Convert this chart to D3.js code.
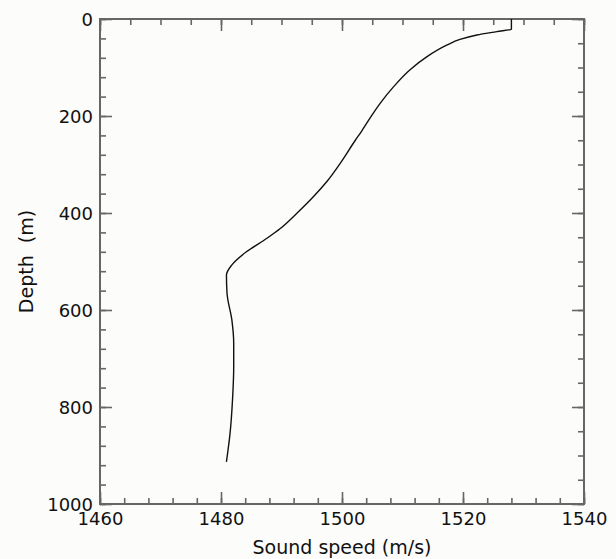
<!DOCTYPE html>
<html>
<head>
<meta charset="utf-8">
<script src="https://cdn.jsdelivr.net/npm/d3@7"></script>
<style>
  body { margin: 0; background: #fcfcfa; }
  svg { display: block; }
</style>
</head>
<body>
<svg id="canvas" width="616" height="559"></svg>
<script>
// sound speed profile
let depths = [0, 21, 26, 33, 42, 54, 78, 105, 140, 174, 205, 232, 250, 294, 335, 366, 401, 432, 452, 480, 507, 528, 566, 621, 669, 717, 786, 854, 913]
let speeds = [1528.0, 1528.0, 1525.6, 1522.3, 1519.5, 1517.3, 1514.0, 1511.2, 1508.5, 1506.3, 1504.6, 1503.2, 1502.2, 1499.9, 1497.5, 1495.3, 1492.5, 1489.8, 1487.6, 1484.2, 1481.8, 1480.9, 1481.0, 1481.8, 1482.1, 1482.1, 1481.9, 1481.5, 1480.9]

let xTicks = [1460, 1480, 1500, 1520, 1540]
let yTicks = [0, 200, 400, 600, 800, 1000]

let canvas = d3.select('#canvas')

let plotLeft = 100, plotRight = 584, plotTop = 19, plotBottom = 504
let axisColor = '#666'

let xScale = d3.scaleLinear().domain([1460, 1540]).range([plotLeft, plotRight])
let yScale = d3.scaleLinear().domain([0, 1000]).range([plotTop, plotBottom])

let styleAxis = (g) => {
    g.select('.domain').remove()
    g.selectAll('.tick line').attr('stroke', axisColor).attr('stroke-width', 1.6)
    g.selectAll('.tick text')
        .attr('fill', '#111')
        .style('font-family', '"DejaVu Sans", sans-serif')
        .style('font-size', '18px')
}

// bottom axis: labels, minor every 4
canvas.append('g')
    .attr('transform', 'translate(0,' + plotBottom + ')')
    .call(d3.axisBottom(xScale).tickValues(d3.range(1460, 1541, 4)).tickSize(-6).tickFormat(''))
    .call(styleAxis)
canvas.append('g')
    .attr('transform', 'translate(0,' + plotBottom + ')')
    .call(d3.axisBottom(xScale).tickValues(xTicks).tickSize(-12).tickFormat(d3.format('d')))
    .call(styleAxis)
    .call(g => g.selectAll('.tick text').attr('y', 21).attr('dy', '0'))

// top axis: no labels, minor every 5
canvas.append('g')
    .attr('transform', 'translate(0,' + plotTop + ')')
    .call(d3.axisTop(xScale).tickValues(d3.range(1460, 1541, 5)).tickSize(-6).tickFormat(''))
    .call(styleAxis)
canvas.append('g')
    .attr('transform', 'translate(0,' + plotTop + ')')
    .call(d3.axisTop(xScale).tickValues(xTicks).tickSize(-12).tickFormat(''))
    .call(styleAxis)

// left axis: labels, minor every 40
canvas.append('g')
    .attr('transform', 'translate(' + plotLeft + ',0)')
    .call(d3.axisLeft(yScale).tickValues(d3.range(0, 1001, 40)).tickSize(-6).tickFormat(''))
    .call(styleAxis)
canvas.append('g')
    .attr('transform', 'translate(' + plotLeft + ',0)')
    .call(d3.axisLeft(yScale).tickValues(yTicks).tickSize(-12).tickFormat(d3.format('d')))
    .call(styleAxis)
    .call(g => g.selectAll('.tick text').attr('x', -7).attr('dy', '0.36em'))

// right axis: minor every 50
canvas.append('g')
    .attr('transform', 'translate(' + plotRight + ',0)')
    .call(d3.axisRight(yScale).tickValues(d3.range(0, 1001, 50)).tickSize(-6).tickFormat(''))
    .call(styleAxis)
canvas.append('g')
    .attr('transform', 'translate(' + plotRight + ',0)')
    .call(d3.axisRight(yScale).tickValues(yTicks).tickSize(-12).tickFormat(''))
    .call(styleAxis)

// frame
canvas.append('rect')
    .attr('x', plotLeft)
    .attr('y', plotTop)
    .attr('width', plotRight - plotLeft)
    .attr('height', plotBottom - plotTop)
    .attr('fill', 'none')
    .attr('stroke', axisColor)
    .attr('stroke-width', 2)

// profile
let profile = depths.map((d, i) => ({depth: d, speed: speeds[i]}))
let line = d3.line()
    .x(p => xScale(p.speed))
    .y(p => yScale(p.depth))
    .curve(d3.curveMonotoneY)

canvas.append('path')
    .datum(profile)
    .attr('d', line)
    .attr('fill', 'none')
    .attr('stroke', '#111')
    .attr('stroke-width', 1.4)

// axis titles
canvas.append('text')
    .text('Sound speed (m/s)')
    .attr('x', (plotLeft + plotRight) / 2)
    .attr('y', 554)
    .attr('text-anchor', 'middle')
    .attr('fill', '#111')
    .style('font-family', '"DejaVu Sans", sans-serif')
    .style('font-size', '19px')

canvas.append('text')
    .text('Depth\u00a0\u00a0(m)')
    .attr('transform', 'translate(33,' + (plotTop + plotBottom) / 2 + ') rotate(-90)')
    .attr('text-anchor', 'middle')
    .attr('fill', '#111')
    .style('font-family', '"DejaVu Sans", sans-serif')
    .style('font-size', '19px')
</script>
</body>
</html>
